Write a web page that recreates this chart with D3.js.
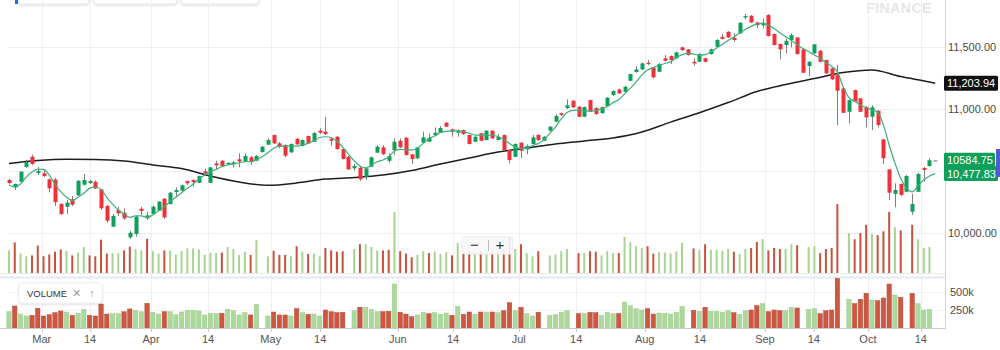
<!DOCTYPE html>
<html><head><meta charset="utf-8">
<script src="https://cdn.jsdelivr.net/npm/d3@7"></script>
<style>
html,body{margin:0;padding:0;background:#fff;}
svg{display:block;font-family:"Liberation Sans",Arial,Helvetica,sans-serif;}
</style>
</head><body>
<svg id="chart" width="1000" height="350"></svg>
<script>
// ---- data ----
const opens = [10426,10367,10412,10531,10613,10482,10480,10432,10430,10233,10211,10271,10303,10388,10402,10412,10351,10217,10051,10185,10163,9965,9992,10195,10118,10153,10179,10276,10233,10330,10340,10418,10426,10404,10496,10404,10560,10581,10552,10555,10593,10573,10609,10581,10651,10710,10788,10721,10708,10649,10758,10700,10780,10734,10823,10815,10758,10774,10675,10613,10520,10525,10453,10533,10646,10689,10581,10667,10742,10766,10633,10601,10726,10734,10786,10806,10887,10834,10806,10828,10788,10734,10802,10748,10823,10748,10788,10667,10613,10726,10673,10716,10788,10742,10823,10895,10962,11005,11064,11015,10935,11069,11005,10965,11021,11110,11155,11136,11224,11294,11316,11369,11332,11297,11405,11423,11405,11493,11477,11377,11377,11405,11439,11498,11578,11618,11570,11606,11734,11747,11694,11670,11753,11600,11520,11512,11552,11573,11477,11343,11445,11466,11391,11324,11270,11163,10975,11150,11083,11011,10935,10983,10753,10512,10314,10394,10332,10171,10332,10523,10539,10585];
const highs = [10434,10398,10498,10587,10631,10531,10507,10438,10442,10241,10265,10297,10426,10474,10426,10422,10354,10225,10153,10211,10199,10018,10137,10211,10171,10221,10257,10281,10330,10367,10390,10420,10430,10462,10517,10531,10581,10587,10567,10581,10641,10641,10619,10627,10700,10761,10792,10732,10712,10720,10764,10752,10784,10812,10842,10933,10772,10780,10679,10619,10555,10531,10523,10615,10708,10708,10641,10761,10761,10772,10635,10691,10815,10802,10850,10860,10892,10840,10834,10832,10792,10780,10804,10828,10828,10796,10792,10671,10720,10732,10712,10788,10796,10780,10860,10957,10969,11075,11069,11021,11017,11073,11013,11017,11093,11146,11162,11186,11282,11343,11371,11391,11335,11367,11431,11427,11459,11500,11479,11405,11447,11411,11483,11560,11600,11624,11606,11696,11761,11753,11699,11726,11761,11604,11524,11565,11606,11576,11479,11383,11520,11471,11395,11331,11351,11166,11073,11154,11085,11021,11029,10989,10756,10515,10400,10398,10466,10314,10485,10533,10601,10585];
const lows = [10394,10346,10410,10523,10547,10466,10450,10326,10217,10145,10153,10217,10297,10382,10394,10354,10185,10083,10048,10137,10105,9952,9970,10145,10105,10149,10177,10113,10229,10297,10338,10386,10372,10402,10474,10402,10507,10531,10551,10528,10528,10571,10547,10579,10647,10708,10716,10681,10609,10643,10708,10696,10716,10732,10796,10788,10700,10671,10591,10507,10501,10420,10426,10531,10643,10627,10565,10627,10683,10623,10555,10595,10724,10732,10780,10804,10852,10774,10774,10788,10712,10732,10740,10744,10758,10744,10663,10560,10611,10601,10635,10712,10740,10740,10820,10892,10941,10997,11005,10933,10933,10973,10949,10957,11017,11101,11118,11134,11222,11290,11310,11351,11244,11294,11379,11359,11399,11463,11427,11345,11375,11371,11435,11495,11556,11568,11538,11600,11718,11688,11646,11646,11580,11508,11397,11445,11493,11435,11286,11262,11439,11371,11278,11230,10868,10965,10882,11053,10973,10850,10828,10850,10555,10265,10207,10297,10330,10145,10330,10412,10533,10585];
const closes = [10402,10394,10493,10571,10555,10498,10458,10359,10249,10153,10244,10228,10420,10426,10418,10359,10199,10099,10137,10158,10118,10002,10131,10177,10142,10211,10252,10126,10324,10346,10384,10400,10410,10458,10480,10528,10544,10539,10565,10568,10576,10619,10573,10619,10694,10748,10721,10694,10622,10716,10713,10748,10721,10804,10806,10796,10742,10675,10595,10512,10539,10432,10520,10609,10694,10635,10619,10734,10689,10627,10595,10689,10769,10766,10806,10844,10855,10815,10823,10796,10716,10774,10742,10823,10761,10774,10667,10587,10716,10662,10700,10769,10748,10774,10855,10941,10949,11027,11011,10935,11013,10975,10957,11013,11088,11142,11123,11176,11278,11316,11364,11359,11252,11359,11385,11391,11453,11471,11431,11364,11437,11377,11477,11552,11562,11573,11552,11691,11745,11694,11672,11691,11584,11512,11477,11546,11592,11439,11289,11377,11517,11377,11284,11236,11144,10967,11069,11056,10975,10930,11011,10868,10601,10324,10346,10306,10458,10233,10474,10507,10585,10585];
// volume in thousands
const volumes = [226,306,194,167,176,274,167,185,213,236,222,176,204,260,176,167,333,194,199,199,226,264,240,226,343,218,194,226,226,185,222,246,246,236,181,204,199,204,260,240,181,213,181,329,0,167,222,181,181,167,268,213,190,194,167,250,226,213,218,0,240,288,288,260,226,226,232,611,218,194,157,181,218,199,213,190,208,176,301,190,222,190,222,222,222,213,240,351,240,288,199,167,218,0,176,185,218,240,0,199,199,218,213,176,218,199,199,361,310,268,250,268,194,208,204,194,218,301,0,246,232,288,232,232,222,240,213,190,240,250,310,338,226,250,240,240,288,278,0,260,268,199,240,250,690,0,399,338,399,482,389,379,417,611,458,426,0,482,338,250,260,0];
// short moving average (green), one value per session
const maShort = [10386,10370,10394,10450,10490,10511,10511,10466,10394,10332,10287,10260,10287,10319,10359,10372,10351,10287,10233,10185,10153,10126,10137,10137,10126,10145,10179,10211,10252,10287,10324,10359,10394,10432,10466,10493,10512,10533,10547,10555,10565,10573,10573,10587,10613,10646,10681,10699,10699,10699,10699,10708,10721,10742,10768,10774,10768,10740,10691,10635,10581,10539,10523,10547,10573,10587,10611,10659,10673,10671,10667,10681,10721,10760,10780,10808,10818,10822,10822,10814,10802,10788,10788,10788,10786,10776,10752,10720,10691,10681,10685,10704,10720,10750,10802,10852,10917,10969,10987,10989,10983,10983,10983,10999,11017,11049,11073,11118,11163,11214,11270,11311,11331,11348,11363,11377,11411,11435,11445,11439,11431,11435,11455,11487,11516,11548,11576,11608,11636,11662,11680,11686,11672,11644,11610,11580,11548,11516,11483,11459,11431,11405,11371,11339,11297,11176,11089,11061,11029,11009,10989,10973,10868,10708,10563,10442,10362,10330,10378,10426,10458,10477.83];
// long moving average (black), sampled sessions
const maLongDays = [0,5,10,15,20,25,30,35,40,45,50,55,60,65,70,75,80,85,90,95,100,105,110,115,120,125,130,135,140,145,150,155,160,161];
const maLong = [10559,10583,10593,10591,10579,10547,10519,10458,10410,10384,10402,10434,10446,10466,10503,10555,10603,10651,10683,10716,10740,10764,10812,10892,10967,11049,11138,11194,11242,11290,11311,11258,11214,11203.94];
const tickDays = [5.7,14.1,24.7,34.6,45.5,54.1,67.6,77.2,88.6,98.6,110.5,120.1,131.4,139.9,149.3,158.5];
const tickLabels = ["Mar","14","Apr","14","May","14","Jun","14","Jul","14","Aug","14","Sep","14","Oct","14"];
const priceGrid = [10000,10500,11000,11500];
const priceTickValues = [10000,11000,11500];
const priceTickLabels = ["10,000.00","11,000.00","11,500.00"];
const volTickValues = [250,500];
const volTickLabels = ["250k","500k"];
const lastPrice = 10584.75, lastShort = 10477.83, lastLong = 11203.94;

// ---- drawing ----
const N = closes.length;
const svg = d3.select("#chart");
const defs = svg.append("defs");
const f = defs.append("filter").attr("id","sh").attr("x","-20%").attr("y","-30%").attr("width","140%").attr("height","170%");
f.append("feDropShadow").attr("dx",0).attr("dy",1).attr("stdDeviation",1.2).attr("flood-color","#000").attr("flood-opacity",0.15);

const x = d3.scaleLinear().domain([0, N - 1]).range([9, 935.2]);
const y = d3.scaleLinear().domain([10000, 11500]).range([233, 46.5]);
const yVo = d3.scaleLinear().domain([0, 1000]).range([273, 173]);
const yV = d3.scaleLinear().domain([0, 500]).range([328, 292]);
const AX = 945.5;

// top tab remnants
[[18,89],[94,177],[181,259]].forEach(([a,b])=>{
  svg.append("rect").attr("x",a).attr("y",-12).attr("width",b-a).attr("height",16).attr("rx",3)
    .attr("fill","#fff").attr("stroke","#e6e6e6").attr("filter","url(#sh)");
});
svg.append("rect").attr("x",15).attr("y",-4).attr("width",3).attr("height",8).attr("fill","#1a6ff0");

// watermark
svg.append("text").attr("x",899).attr("y",13).attr("text-anchor","middle")
  .attr("font-size",14).attr("font-weight","bold").attr("fill","#e6e6e6").attr("letter-spacing",0.5).text("FINANCE");

// grid
const g = svg.append("g");
g.selectAll(".vg").data(tickDays).join("line")
  .attr("x1",d=>Math.round(x(d))+0.5).attr("x2",d=>Math.round(x(d))+0.5)
  .attr("y1",0).attr("y2",328).attr("stroke","#efefef");
g.selectAll(".hg").data(priceGrid).join("line")
  .attr("x1",8).attr("x2",AX).attr("y1",d=>Math.round(y(d))+0.5).attr("y2",d=>Math.round(y(d))+0.5)
  .attr("stroke","#efefef");
g.selectAll(".vhg").data(volTickValues).join("line")
  .attr("x1",8).attr("x2",AX).attr("y1",d=>Math.round(yV(d))+0.5).attr("y2",d=>Math.round(yV(d))+0.5)
  .attr("stroke","#f4f4f4");

const up = closes.map((c,i)=> i === 0 ? true : c >= closes[i-1]);

// overlay volume in price panel
svg.append("g").selectAll("rect").data(volumes).join("rect")
  .attr("x",(d,i)=>x(i)-1).attr("width",2)
  .attr("y",d=>yVo(d)).attr("height",d=>yVo(0)-yVo(d))
  .attr("fill",(d,i)=>up[i] ? "#a7d492" : "#c4533e");
svg.append("line").attr("x1",0).attr("x2",AX).attr("y1",273.5).attr("y2",273.5).attr("stroke","#e9e9e9");
svg.append("rect").attr("x",0).attr("y",276.5).attr("width",AX).attr("height",2).attr("fill","#e5eaf1");

// long MA
svg.append("path").datum(maLong)
  .attr("d", d3.line().x((d,k)=>x(maLongDays[k])).y(d=>y(d)).curve(d3.curveMonotoneX))
  .attr("fill","none").attr("stroke","#1e1e1e").attr("stroke-width",1.5);

// candles
const cg = svg.append("g");
const idx = d3.range(N);
cg.selectAll(".w").data(idx).join("line")
  .attr("x1",i=>Math.round(x(i))+0.5).attr("x2",i=>Math.round(x(i))+0.5)
  .attr("y1",i=>y(highs[i])).attr("y2",i=>y(lows[i]))
  .attr("stroke","#808080").attr("stroke-width",1);
cg.selectAll(".b").data(idx).join("rect")
  .attr("x",i=>Math.round(x(i))-1.5).attr("width",4)
  .attr("y",i=>y(Math.max(opens[i],closes[i])))
  .attr("height",i=>Math.max(1.2, Math.abs(y(opens[i])-y(closes[i]))))
  .attr("fill",i=> closes[i] > opens[i] ? "#0e9f5b" : (closes[i] < opens[i] ? "#f1313a" : "#8a8a8a"));

// short MA
svg.append("path").datum(maShort)
  .attr("d", d3.line().x((d,i)=>x(i)).y(d=>y(d)).curve(d3.curveMonotoneX))
  .attr("fill","none").attr("stroke","#3fae78").attr("stroke-width",1.2);

// volume sub panel
svg.append("g").selectAll("rect").data(volumes).join("rect")
  .attr("x",(d,i)=>x(i)-2.2).attr("width",4.4)
  .attr("y",d=>yV(d)).attr("height",d=>yV(0)-yV(d))
  .attr("fill",(d,i)=>up[i] ? "#acd89c" : "#cc5843")
  .attr("stroke",(d,i)=>up[i] ? "#9ccb8b" : "#b84a36").attr("stroke-width",0.5);

// axes lines
svg.append("line").attr("x1",0).attr("x2",AX).attr("y1",328.5).attr("y2",328.5).attr("stroke","#c9c9c9");
svg.append("line").attr("x1",AX).attr("x2",AX).attr("y1",0).attr("y2",329).attr("stroke","#d3d3d3");

// x axis ticks & labels
const xa = svg.append("g");
xa.selectAll("line").data(tickDays).join("line")
  .attr("x1",d=>Math.round(x(d))+0.5).attr("x2",d=>Math.round(x(d))+0.5)
  .attr("y1",329).attr("y2",332).attr("stroke","#c9c9c9");
xa.selectAll("text").data(tickDays).join("text")
  .attr("x",d=>x(d)).attr("y",343).attr("text-anchor","middle")
  .attr("font-size",11).attr("fill","#555").text((d,i)=>tickLabels[i]);

// price labels
svg.append("g").selectAll("text").data(priceTickValues).join("text")
  .attr("x",948).attr("y",d=>y(d)+4).attr("font-size",11).attr("fill","#4a4a4a")
  .text((d,i)=>priceTickLabels[i]);
svg.append("g").selectAll("text").data(volTickValues).join("text")
  .attr("x",950).attr("y",d=>yV(d)+4).attr("font-size",11).attr("fill","#4a4a4a")
  .text((d,i)=>volTickLabels[i]);

// value boxes
function box(v, txt, fill, w){
  const cy = y(v);
  svg.append("rect").attr("x",944).attr("y",cy-7.5).attr("width",w).attr("height",15).attr("rx",1.5).attr("fill",fill);
  svg.append("text").attr("x",947).attr("y",cy+4).attr("font-size",11).attr("fill","#fff").text(txt);
}
box(lastLong, d3.format(",.2f")(lastLong), "#111", 54);
box(lastPrice, String(lastPrice.toFixed(2)), "#0e9f5b", 51);
box(lastShort, d3.format(",.2f")(lastShort), "#0e9f5b", 54);
svg.append("rect").attr("x",996).attr("y",149).attr("width",4).attr("height",28).attr("fill","#4f5bd5");

// zoom control
svg.append("rect").attr("x",462).attr("y",237).attr("width",51).attr("height",17).attr("rx",3)
  .attr("fill","#f7f7f7").attr("fill-opacity",0.9).attr("stroke","#ececec");
svg.append("line").attr("x1",488.5).attr("x2",488.5).attr("y1",240).attr("y2",251).attr("stroke","#bdbdbd");
svg.append("text").attr("x",474.5).attr("y",250).attr("text-anchor","middle").attr("font-size",15).attr("fill","#333").text("−");
svg.append("text").attr("x",500).attr("y",250).attr("text-anchor","middle").attr("font-size",15).attr("fill","#333").text("+");

// volume legend
svg.append("rect").attr("x",19).attr("y",283).attr("width",83).attr("height",20).attr("rx",3)
  .attr("fill","#fff").attr("stroke","#efefef").attr("filter","url(#sh)");
svg.append("text").attr("x",27).attr("y",296.5).attr("font-size",9.5).attr("fill","#333").text("VOLUME");
svg.append("text").attr("x",76).attr("y",297).attr("text-anchor","middle").attr("font-size",11).attr("fill","#9a9a9a").text("✕");
svg.append("text").attr("x",92).attr("y",297).attr("text-anchor","middle").attr("font-size",11).attr("fill","#9a9a9a").text("↑");
</script>
</body></html>
